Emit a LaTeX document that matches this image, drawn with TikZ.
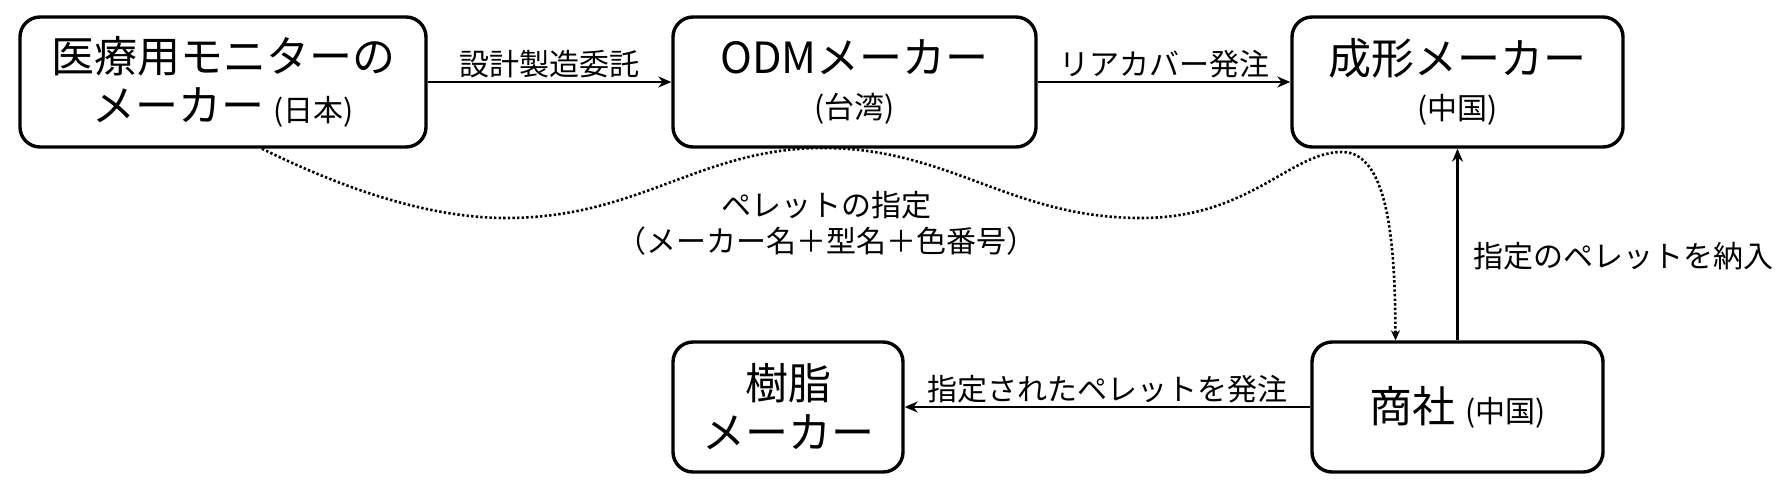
\documentclass[tikz,border=0pt]{standalone}
\usepackage{fontspec}
\setmainfont{Noto Sans CJK JP}
\usetikzlibrary{arrows.meta, positioning, calc}

\newcommand{\smalltag}[1]{{\fontsize{30}{36}\selectfont #1}}

\begin{document}
\begin{tikzpicture}[x=1pt, y=-1pt,
  box/.style={draw, line width=3.4pt, rounded corners=20pt, align=center,
              inner sep=0pt, minimum height=130pt, font=\fontsize{43}{49}\selectfont},
  flow/.style={-{Stealth[length=13pt, width=11pt]}, line width=2.8pt},
  pellet/.style={-{Stealth[length=10pt, width=9pt]}, line width=2.6pt,
                 dash pattern=on 2.4pt off 2.2pt},
  lbl/.style={font=\fontsize{30}{36}\selectfont, inner sep=0pt}]
\useasboundingbox (0,0) rectangle (1784,490);

% === top row ===
\node[box, minimum width=406pt] (maker) at (223,82)
      {医療用モニターの\\メーカー \smalltag{(日本)}};
\node[box, minimum width=363pt] (odm) at (854.5,82)
      {ODMメーカー\\[-4pt]\smalltag{(台湾)}};
\node[box, minimum width=331pt] (molder) at (1457.5,82)
      {成形メーカー\\[-4pt]\smalltag{(中国)}};

% === bottom row ===
\node[box, minimum width=230pt] (resin) at (788,407)
      {樹脂\\メーカー};
\node[box, minimum width=291pt] (trader) at (1457.5,407)
      {商社 \smalltag{(中国)}};

% orders
\draw[flow] (maker) -- node[lbl, above=3pt] (consign) {設計製造委託} (odm);
\draw[flow] (odm) -- node[lbl, above=3pt] (cover) {リアカバー発注} (molder);
\draw[flow] (trader) -- node[lbl, above=3pt] (order) {指定されたペレットを発注} (resin);
\draw[flow] (trader) -- node[lbl, right=15pt, pos=0.44] (deliver) {指定のペレットを納入} (molder);

% pellet specification (dotted)
\draw[pellet] ([xshift=39pt]maker.south)
      .. controls (330,182) and (420,218) .. (506,218)
      .. controls (640,218) and (700,148) .. (823,148)
      .. controls (950,148) and (1010,218) .. (1141,218)
      .. controls (1250,218) and (1290,152) .. (1342,152)
      .. controls (1390,152) and (1395,250) .. ([xshift=-62pt]trader.north);
\node[lbl, align=center] (spec) at (826,223)
      {ペレットの指定\\（メーカー名＋型名＋色番号）};

\end{tikzpicture}
\end{document}
